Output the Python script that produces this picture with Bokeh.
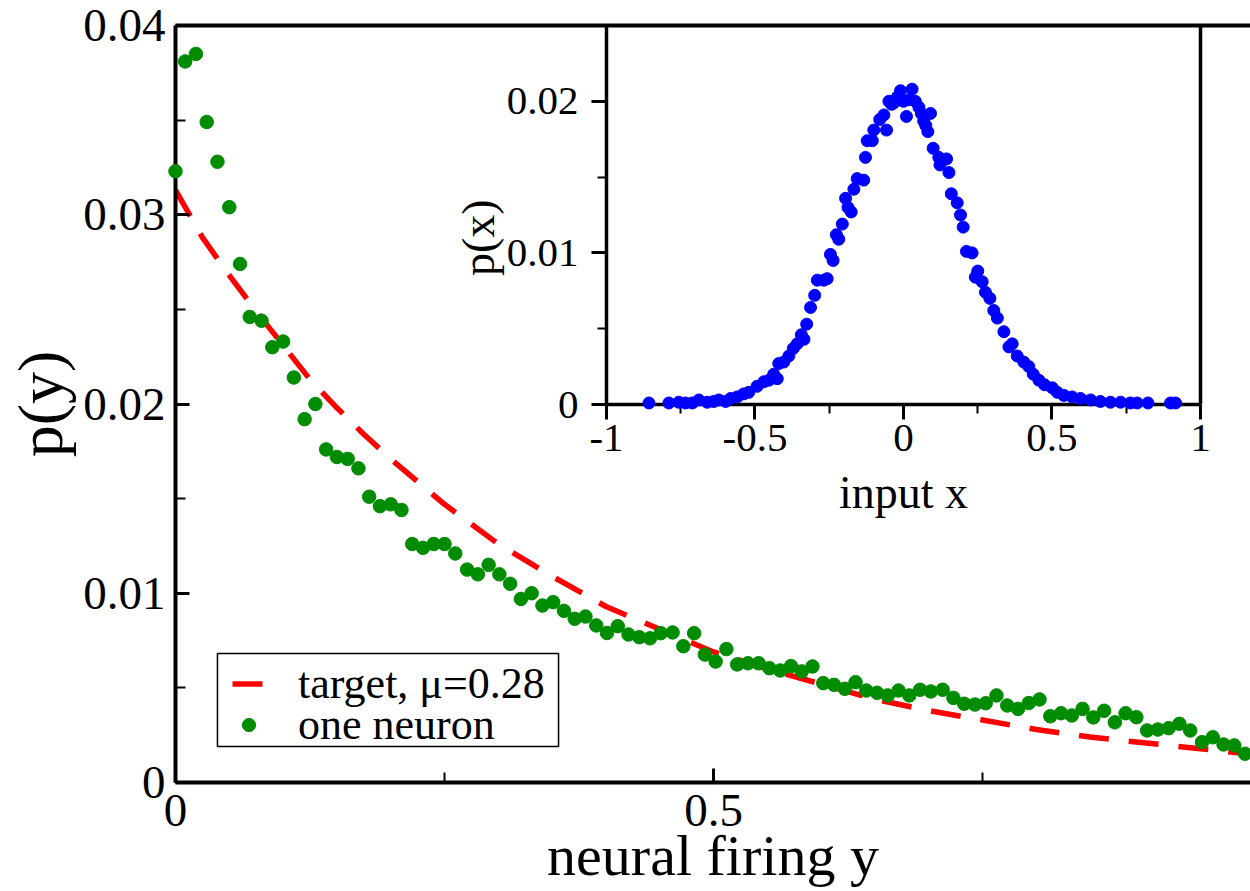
import math
from bokeh.plotting import figure
from bokeh.models import (Range1d, LinearAxis, FixedTicker, Legend, LegendItem, Label,
                          BoxAnnotation)
from bokeh.embed import file_html
from bokeh.resources import INLINE

# ---------------- main plot data ----------------
neuron_y_pos = [0.000, 0.009, 0.019, 0.029, 0.039, 0.050, 0.060, 0.069, 0.080, 0.090,
                0.100, 0.110, 0.120, 0.130, 0.140, 0.150, 0.160, 0.170, 0.180, 0.190,
                0.200, 0.210, 0.220, 0.230, 0.240, 0.250, 0.260, 0.271, 0.281, 0.291,
                0.301, 0.311, 0.321, 0.331, 0.341, 0.351, 0.361, 0.371, 0.381, 0.391,
                0.401, 0.411, 0.421, 0.431, 0.441, 0.451, 0.462, 0.472, 0.482, 0.492,
                0.502, 0.512, 0.522, 0.532, 0.542, 0.552, 0.562, 0.572, 0.582, 0.592,
                0.602, 0.612, 0.622, 0.632, 0.642, 0.652, 0.662, 0.672, 0.682, 0.692,
                0.702, 0.713, 0.723, 0.733, 0.743, 0.753, 0.763, 0.773, 0.783, 0.793,
                0.803, 0.813, 0.823, 0.833, 0.843, 0.853, 0.863, 0.873, 0.883, 0.893,
                0.903, 0.913, 0.923, 0.933, 0.943, 0.954, 0.964, 0.974, 0.984, 0.994]
neuron_p = [0.0323, 0.0381, 0.0385, 0.0349, 0.0328, 0.0304, 0.0274, 0.0246, 0.0244, 0.0230,
            0.0233, 0.0214, 0.0192, 0.0200, 0.0176, 0.0172, 0.0171, 0.0166, 0.0151, 0.0146,
            0.0147, 0.0144, 0.0126, 0.0124, 0.0126, 0.0126, 0.0121, 0.01125, 0.0110, 0.0115,
            0.0110, 0.0105, 0.0097, 0.0100, 0.00935, 0.00953, 0.00907, 0.00865, 0.00877, 0.0083,
            0.0079, 0.00826, 0.00782, 0.00768, 0.00762, 0.00789, 0.00793, 0.0072, 0.00789, 0.00676,
            0.00639, 0.00705, 0.00624, 0.0063, 0.0063, 0.00604, 0.00592, 0.00615, 0.00587, 0.00613,
            0.00525, 0.00516, 0.00495, 0.0053, 0.00486, 0.00474, 0.0046, 0.00486, 0.0046, 0.0049,
            0.00481, 0.0049, 0.00447, 0.00416, 0.00412, 0.00419, 0.0046, 0.00407, 0.00389, 0.0042,
            0.00439, 0.0035, 0.00366, 0.00354, 0.00389, 0.00344, 0.00379, 0.00318, 0.00366, 0.00345,
            0.00275, 0.0028, 0.00287, 0.0031, 0.00275, 0.00213, 0.00239, 0.00201, 0.00196, 0.00152]

target_y_pos = [0.0, 0.025, 0.05, 0.075, 0.10, 0.125, 0.15, 0.175, 0.20, 0.25, 0.30, 0.35,
                0.40, 0.45, 0.50, 0.55, 0.60, 0.65, 0.70, 0.75, 0.80, 0.85, 0.90, 0.95, 1.00]
target_p = [0.0313, 0.0288, 0.0268, 0.0249, 0.0231, 0.0213, 0.0198, 0.0184, 0.0171, 0.0147,
            0.0126, 0.0109, 0.0093, 0.0081, 0.0069, 0.0060, 0.0052, 0.0044, 0.0038, 0.0033,
            0.0028, 0.0024, 0.0021, 0.0018, 0.0015]

# ---------------- inset data ----------------
input_x = [-0.857, -0.790, -0.757, -0.734, -0.711, -0.689, -0.661, -0.639, -0.622, -0.599,
           -0.582, -0.560, -0.538, -0.521, -0.493, -0.470, -0.453, -0.437, -0.425, -0.420,
           -0.403, -0.386, -0.371, -0.358, -0.344, -0.335, -0.326, -0.313, -0.299, -0.290,
           -0.268, -0.257, -0.246, -0.237, -0.226, -0.218, -0.206, -0.195, -0.187, -0.176,
           -0.167, -0.156, -0.134, -0.128, -0.122, -0.105, -0.100, -0.080, -0.066, -0.057,
           -0.049, -0.040, -0.032, -0.020, -0.010, 0.000, 0.010, 0.018, 0.029, 0.040,
           0.052, 0.060, 0.068, 0.075, 0.082, 0.091, 0.100, 0.119, 0.123, 0.145,
           0.153, 0.161, 0.181, 0.192, 0.201, 0.212, 0.231, 0.242, 0.250, 0.265,
           0.276, 0.291, 0.304, 0.316, 0.338, 0.355, 0.366, 0.383, 0.405, 0.422,
           0.437, 0.456, 0.475, 0.501, 0.518, 0.540, 0.568, 0.596, 0.630, 0.663,
           0.697, 0.731, 0.764, 0.787, 0.823, 0.899, 0.916]
input_p = [0.0001, 0.0001, 0.00015, 0.0001, 0.0001, 0.0003, 0.00015, 0.0002, 0.0003, 0.0002,
           0.0004, 0.0005, 0.0007, 0.0008, 0.0012, 0.0015, 0.0016, 0.0020, 0.0017, 0.0027,
           0.0028, 0.0032, 0.0037, 0.0040, 0.0046, 0.0043, 0.0053, 0.0064, 0.0072, 0.0082,
           0.0082, 0.0083, 0.0099, 0.0095, 0.0112, 0.0109, 0.0119, 0.0136, 0.0130, 0.0127,
           0.0142, 0.0149, 0.0148, 0.0163, 0.0174, 0.0174, 0.0181, 0.0188, 0.0191, 0.0181,
           0.0200, 0.0198, 0.0199, 0.0203, 0.0207, 0.0200, 0.0190, 0.0201, 0.0208, 0.0200,
           0.0196, 0.0192, 0.0187, 0.0184, 0.0180, 0.0192, 0.0169, 0.0163, 0.0158, 0.0162,
           0.0153, 0.0139, 0.0133, 0.0125, 0.0117, 0.0101, 0.0100, 0.0084, 0.0088, 0.0081,
           0.0074, 0.0070, 0.0062, 0.0057, 0.0048, 0.0038, 0.0040, 0.0032, 0.0028, 0.0025,
           0.0020, 0.0016, 0.0013, 0.0011, 0.0008, 0.0006, 0.0005, 0.0004, 0.0003, 0.0002,
           0.00015, 0.00015, 0.0001, 0.0001, 0.0001, 0.0001, 0.0001]

main_x_ticks = [0, 0.5]
main_x_minor = [0.25, 0.75]
main_y_ticks = [0, 0.01, 0.02, 0.03, 0.04]
main_y_minor = [0.005, 0.015, 0.025, 0.035]
inset_x_ticks = [-1, -0.5, 0, 0.5, 1]
inset_x_minor = [-0.75, -0.25, 0.25, 0.75]
inset_y_ticks = [0, 0.01, 0.02]
inset_y_minor = [0.005, 0.015]

SERIF = "Liberation Serif"

p = figure(width=1250, height=891, output_backend="svg", toolbar_location=None,
           x_range=Range1d(0, 0.99907), y_range=Range1d(0, 0.04),
           min_border_left=175, min_border_right=0, min_border_top=25, min_border_bottom=109,
           x_axis_location=None, y_axis_location=None)
p.outline_line_color = None
p.xgrid.visible = False
p.ygrid.visible = False
p.background_fill_color = "white"
p.border_fill_color = "white"

# inset coordinate system (mapped onto a sub-rectangle of the frame)
p.extra_x_ranges = {"ix": Range1d(-2.4512, 1.1684)}
p.extra_y_ranges = {"iy": Range1d(-0.024934, 0.025)}

def style_main(ax):
    ax.axis_line_width = 4
    ax.axis_line_color = "black"
    ax.major_tick_in = 14
    ax.major_tick_out = 0
    ax.minor_tick_in = 10
    ax.minor_tick_out = 0
    ax.major_tick_line_width = 3
    ax.minor_tick_line_width = 2
    ax.major_label_text_font = SERIF
    ax.major_label_text_font_size = "47px"
    ax.major_label_text_color = "black"

def style_inset(ax):
    ax.axis_line_width = 3.5
    ax.axis_line_color = "black"
    ax.major_tick_in = 0
    ax.major_tick_out = 15
    ax.minor_tick_in = 0
    ax.minor_tick_out = 9
    ax.major_tick_line_width = 3
    ax.minor_tick_line_width = 2
    ax.major_label_text_font = SERIF
    ax.major_label_text_font_size = "41px"
    ax.major_label_text_color = "black"

def labels_for(vals):
    return {v: ("%g" % v) for v in vals}

# main x axis
ax_x = LinearAxis(ticker=FixedTicker(ticks=main_x_ticks, minor_ticks=main_x_minor),
                  axis_label="neural firing y")
style_main(ax_x)
ax_x.major_label_standoff = 12
ax_x.major_label_overrides = labels_for(main_x_ticks)
ax_x.axis_label_text_font = SERIF
ax_x.axis_label_text_font_size = "58px"
ax_x.axis_label_text_font_style = "normal"
ax_x.axis_label_text_color = "black"
ax_x.axis_label_standoff = -6
p.add_layout(ax_x, "below")

# main y axis
ax_y = LinearAxis(ticker=FixedTicker(ticks=main_y_ticks, minor_ticks=main_y_minor),
                  axis_label="p(y)")
style_main(ax_y)
ax_y.major_label_standoff = 10
ax_y.major_label_overrides = labels_for(main_y_ticks)
ax_y.axis_label_text_font = SERIF
ax_y.axis_label_text_font_size = "64px"
ax_y.axis_label_text_font_style = "normal"
ax_y.axis_label_text_color = "black"
ax_y.axis_label_text_line_height = 1.0
ax_y.axis_label_standoff = 4
p.add_layout(ax_y, "left")

# main top frame line
ax_top = LinearAxis(ticker=FixedTicker(ticks=[]), axis_line_width=4,
                    major_tick_line_color=None, minor_tick_line_color=None,
                    major_label_text_font_size="0px")
p.add_layout(ax_top, "above")

# inset axes
in_x = LinearAxis(x_range_name="ix", y_range_name="iy", fixed_location=0, bounds=(-1, 1),
                  ticker=FixedTicker(ticks=inset_x_ticks, minor_ticks=inset_x_minor))
style_inset(in_x)
in_x.major_label_standoff = 5
in_x.major_label_overrides = labels_for(inset_x_ticks)
p.add_layout(in_x, "below")

in_y = LinearAxis(x_range_name="ix", y_range_name="iy", fixed_location=-1, bounds=(0, 0.025),
                  ticker=FixedTicker(ticks=inset_y_ticks, minor_ticks=inset_y_minor))
style_inset(in_y)
in_y.major_label_standoff = 13
in_y.major_label_overrides = labels_for(inset_y_ticks)
p.add_layout(in_y, "left")

in_r = LinearAxis(x_range_name="ix", y_range_name="iy", fixed_location=1, bounds=(0, 0.025),
                  ticker=FixedTicker(ticks=[]), axis_line_width=3.5,
                  major_tick_line_color=None, minor_tick_line_color=None,
                  major_label_text_font_size="0px")
p.add_layout(in_r, "right")

# legend frame (drawn first, under the legend entries)
p.add_layout(BoxAnnotation(left=0.0390, right=0.3560, bottom=0.00190, top=0.00682,
                           fill_color="white", fill_alpha=1.0,
                           line_color="black", line_width=1.5, line_alpha=1.0))

# data
red = p.line(target_y_pos, target_p, line_color="red", line_width=5.5, line_dash="30 20")
green = p.scatter(neuron_y_pos, neuron_p, size=13.5, fill_color="#008c00",
                  line_color="#008c00", level="overlay")
p.scatter(input_x, input_p, size=12, fill_color="#0000ff", line_color="#0000ff",
          x_range_name="ix", y_range_name="iy", level="overlay")

# inset axis-label texts
p.add_layout(Label(x=0, y=-0.0058, x_range_name="ix", y_range_name="iy", text="input x",
                   text_font=SERIF, text_font_size="46px", text_align="center",
                   text_baseline="middle", text_color="black"))
p.add_layout(Label(x=-1.43, y=0.0110, x_range_name="ix", y_range_name="iy", text="p(x)",
                   angle=math.pi / 2, text_font=SERIF, text_font_size="46px",
                   text_align="center", text_baseline="middle", text_color="black"))

def make_legend(item, loc):
    return Legend(items=[item], location=loc, margin=0, padding=0, spacing=0,
                  glyph_width=33, glyph_height=33, label_standoff=33,
                  label_text_font=SERIF, label_text_font_size="44px",
                  label_text_color="black",
                  border_line_color=None, background_fill_alpha=0.0)

p.add_layout(make_legend(LegendItem(label="target, μ=0.28", renderers=[red]), (57, 73)),
             "center")
p.add_layout(make_legend(LegendItem(label="one neuron", renderers=[green]), (57, 32)),
             "center")

open("out.html", "w").write(file_html(p, INLINE))
